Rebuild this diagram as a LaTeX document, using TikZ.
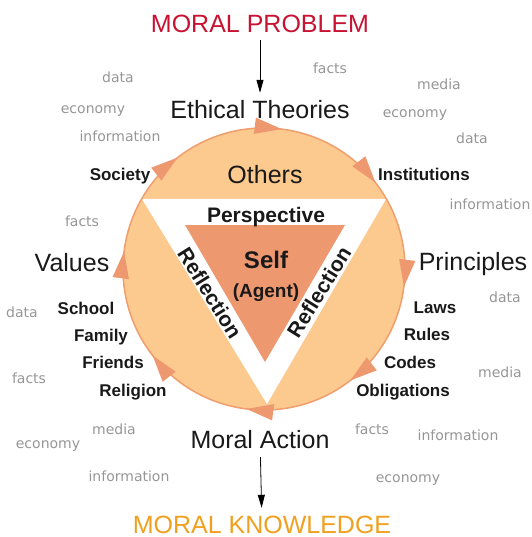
\documentclass[tikz,border=0pt]{standalone}
\usepackage{fontspec}
\setmainfont{Liberation Sans}
\newfontfamily\wordfont{DejaVu Sans}
\usetikzlibrary{arrows.meta,decorations.markings}
\definecolor{ringfill}{RGB}{252,201,143}
\definecolor{ringline}{RGB}{240,158,108}
\definecolor{salmon}{RGB}{238,152,112}
\definecolor{probred}{RGB}{200,18,50}
\definecolor{knoworange}{RGB}{240,160,30}
\definecolor{wordgray}{RGB}{150,150,150}
\begin{document}
\begin{tikzpicture}[x=1pt,y=-1pt,
    big/.style={font=\fontsize{25}{30}\selectfont, text=black!90, inner sep=2pt, text height=18pt, text depth=0pt},
    tag/.style={font=\bfseries\fontsize{17}{20}\selectfont, text=black!90, inner sep=1pt, text height=12pt, text depth=0pt},
    word/.style={font=\wordfont\fontsize{14}{16}\selectfont, text=wordgray, inner sep=1pt, text height=10pt, text depth=0pt},
    flow/.style={-{Triangle[length=13pt,width=7pt]}, line width=0.8pt}]
    \useasboundingbox (0,0) rectangle (531,537);

    % ring and triangles
    \fill[ringfill] (264,269) circle[radius=141];
    \fill[white] (142,199) -- (386,199) -- (267,404) -- cycle;
    \fill[salmon] (185,225) -- (345,225) -- (265,362) -- cycle;
    \draw[ringline, line width=1.5pt, postaction={decorate},
      decoration={markings, mark=between positions 0.02 and 0.99 step 0.125
        with {\arrow[salmon]{Triangle[length=27pt,width=16pt]}}}]
      (264,128) arc[start angle=-90, end angle=270, radius=141];

    % inside
    \node[big] (others) at (265,175) {Others};
    \node[tag, font=\bfseries\fontsize{21}{24}\selectfont, text height=15pt] (persp) at (266,215) {Perspective};
    \node[tag, font=\bfseries\fontsize{24}{28}\selectfont, text height=17pt] (self) at (266,260) {Self};
    \node[tag, font=\bfseries\fontsize{19}{22}\selectfont, text height=14pt] (agent) at (266,290) {(Agent)};
    \node[tag, font=\bfseries\fontsize{21}{24}\selectfont, text height=15pt, rotate=-58] (reflL) at (210,293) {Reflection};
    \node[tag, font=\bfseries\fontsize{21}{24}\selectfont, text height=15pt, rotate=58] (reflR) at (319,292) {Reflection};

    % main path
    \node[big, text=probred] (mp) at (260,24) {MORAL PROBLEM};
    \node[big] (et) at (260,110) {Ethical Theories};
    \node[big] (ma) at (260,439) {Moral Action};
    \node[big, text=knoworange] (mk) at (262,524) {MORAL KNOWLEDGE};
    \node[big] (values) at (72,262) {Values};
    \node[big] (princ) at (473,261) {Principles};

    \draw[flow, shorten <=5pt, shorten >=6pt] (mp) -- (et);
    \draw[flow, shorten <=7pt, shorten >=5pt] (ma) -- (mk);

    % sources
    \node[tag] (society) at (120,175) {Society};
    \node[tag] (inst) at (424,175) {Institutions};
    \node[tag] (school) at (86,308) {School};
    \node[tag] (family) at (101,335) {Family};
    \node[tag] (friends) at (113,362) {Friends};
    \node[tag] (religion) at (133,390) {Religion};
    \node[tag] (laws) at (435,307) {Laws};
    \node[tag] (rules) at (427,334) {Rules};
    \node[tag] (codes) at (410,362) {Codes};
    \node[tag] (oblig) at (403,390) {Obligations};

    % background words
    \node[word] (data1) at (118,78) {data};
    \node[word] (econ1) at (93,109) {economy};
    \node[word] (info1) at (120,137) {information};
    \node[word] (facts1) at (330,69) {facts};
    \node[word] (media1) at (439,85) {media};
    \node[word] (econ2) at (415,113) {economy};
    \node[word] (data2) at (472,139) {data};
    \node[word] (info2) at (490,204) {information};
    \node[word] (facts2) at (82,221) {facts};
    \node[word] (data3) at (22,312) {data};
    \node[word] (facts3) at (29,378) {facts};
    \node[word] (data4) at (505,297) {data};
    \node[word] (media2) at (500,372) {media};
    \node[word] (media3) at (114,429) {media};
    \node[word] (econ3) at (48,443) {economy};
    \node[word] (info3) at (129,476) {information};
    \node[word] (facts4) at (372,429) {facts};
    \node[word] (info4) at (458,435) {information};
    \node[word] (econ4) at (408,477) {economy};
  \end{tikzpicture}
\end{document}
